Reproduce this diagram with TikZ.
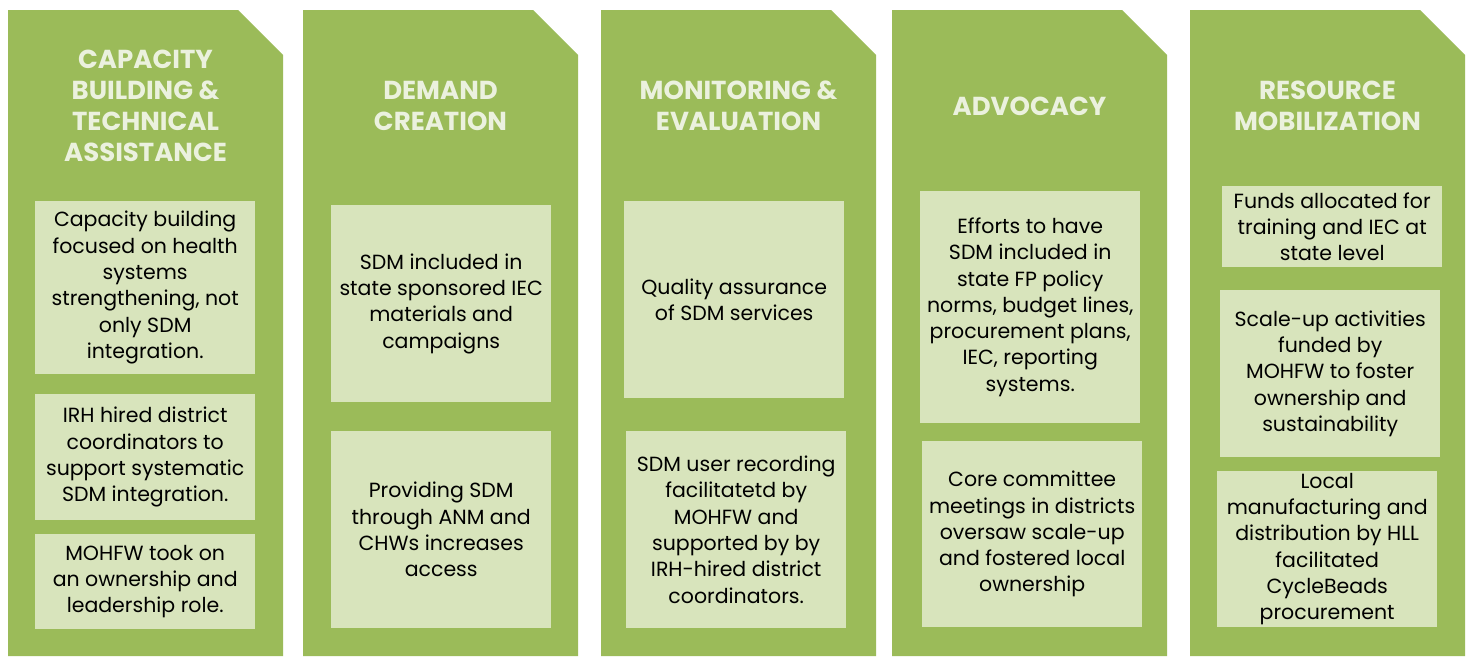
\documentclass[tikz,border=0pt]{standalone}
\usepackage{fontspec}
\setmainfont{Poppins}
\definecolor{panelgreen}{HTML}{9BBB59}
\definecolor{boxgreen}{HTML}{D8E4BC}
\definecolor{headtext}{HTML}{EBF1DE}
\tikzset{
  panel/.style={fill=panelgreen, draw=none},
  head/.style={text=headtext, font=\fontsize{26}{31}\selectfont\bfseries, align=center, inner sep=0pt},
  item/.style={fill=boxgreen, draw=none, align=center, text=black,
    font=\fontsize{20.5}{26.3}\selectfont, inner sep=0pt, minimum width=220pt, anchor=north west},
}
\begin{document}
\begin{tikzpicture}[x=1pt, y=-1pt]
\useasboundingbox (0,0) rectangle (1469,656);
\fill[white] (0,0) rectangle (1469,656);
% panels
\foreach \l/\r in {8/283, 303/578, 601/876, 892/1167, 1190/1465}{
  \fill[panel] (\l,656) -- (\l,10) -- (\r-45,10) -- (\r,55) -- (\r,656) -- cycle;
}
% headings
\node[head] (h1) at (145.5,106) {CAPACITY\\BUILDING \&\\TECHNICAL\\ASSISTANCE};
\node[head] (h2) at (440.5,106) {DEMAND\\CREATION};
\node[head] (h3) at (738.5,106) {MONITORING \&\\EVALUATION};
\node[head] (h4) at (1029.5,106) {ADVOCACY};
\node[head] (h5) at (1327.5,106) {RESOURCE\\MOBILIZATION};
% column 1
\node[item, minimum height=173pt] (c1a) at (35,201) {Capacity building\\focused on health\\systems\\strengthening, not\\only SDM\\integration.};
\node[item, minimum height=126pt] (c1b) at (35,394) {IRH hired district\\coordinators to\\support systematic\\SDM integration.};
\node[item, minimum height=95pt] (c1c) at (35,534) {MOHFW took on\\an ownership and\\leadership role.};
% column 2
\node[item, minimum height=197pt] (c2a) at (331,205) {SDM included in\\state sponsored IEC\\materials and\\campaigns};
\node[item, minimum height=197pt] (c2b) at (331,431) {Providing SDM\\through ANM and\\CHWs increases\\access};
% column 3
\node[item, minimum height=197pt] (c3a) at (624,201) {Quality assurance\\of SDM services};
\node[item, minimum height=197pt] (c3b) at (626,431) {SDM user recording\\facilitatetd by\\MOHFW and\\supported by by\\IRH-hired district\\coordinators.};
% column 4
\node[item, minimum height=232pt] (c4a) at (920,191) {Efforts to have\\SDM included in\\state FP policy\\norms, budget lines,\\procurement plans,\\IEC, reporting\\systems.};
\node[item, minimum height=186pt] (c4b) at (922,441) {Core committee\\meetings in districts\\oversaw scale-up\\and fostered local\\ownership};
% column 5
\node[item, minimum height=81pt] (c5a) at (1222,186) {Funds allocated for\\training and IEC at\\state level};
\node[item, minimum height=167pt] (c5b) at (1220,290) {Scale-up activities\\funded by\\MOHFW to foster\\ownership and\\sustainability};
\node[item, minimum height=156pt] (c5c) at (1217,471) {Local\\manufacturing and\\distribution by HLL\\facilitated\\CycleBeads\\procurement};
\end{tikzpicture}
\end{document}
